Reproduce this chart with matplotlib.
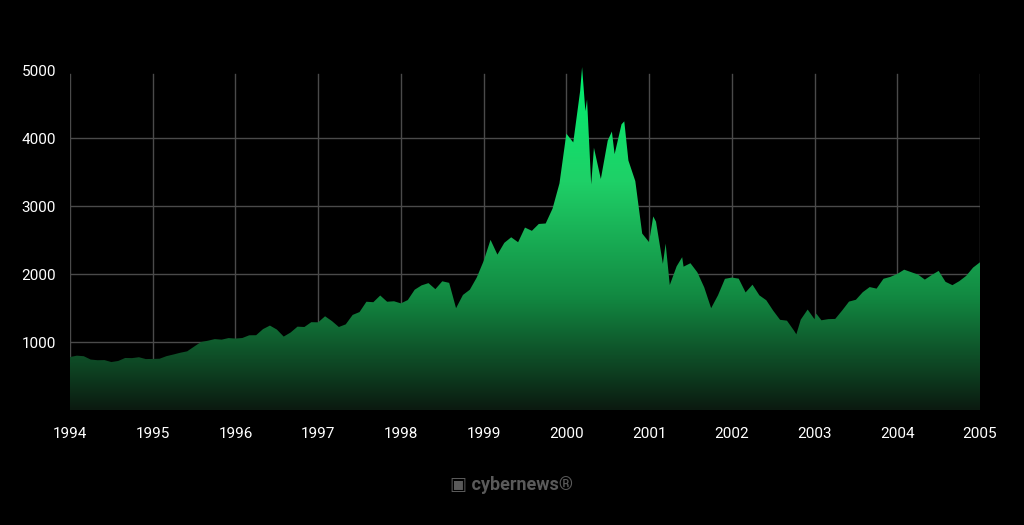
import numpy as np
import matplotlib.pyplot as plt
from matplotlib.colors import LinearSegmentedColormap
from matplotlib.patches import Polygon

plt.rcParams['font.family'] = ['Roboto', 'DejaVu Sans']

years = list(range(1994, 2006))
yticks = [1000, 2000, 3000, 4000, 5000]
monthly = [
 800, 792, 743, 733, 735, 706, 722, 766, 764, 777, 750, 752,
 755, 793, 817, 843, 864, 933, 1001, 1020, 1044, 1036, 1059, 1052,
 1060, 1100, 1101, 1191, 1243, 1185, 1081, 1141, 1227, 1222, 1293, 1291,
 1380, 1309, 1222, 1261, 1400, 1442, 1594, 1587, 1686, 1594, 1601, 1570,
 1619, 1771, 1835, 1868, 1779, 1895, 1872, 1499, 1694, 1771, 1950, 2193,
 2505, 2288, 2461, 2543, 2470, 2686, 2638, 2739, 2746, 2966, 3336, 4069,
 3940, 4697, 4573, 3861, 3401, 3966, 3767, 4206, 3673, 3370, 2598, 2471,
 2773, 2152, 1840, 2116, 2110, 2161, 2027, 1805, 1499, 1690, 1931, 1950,
 1934, 1731, 1845, 1688, 1616, 1463, 1328, 1315, 1172, 1330, 1479, 1336,
 1321, 1338, 1341, 1464, 1596, 1623, 1735, 1810, 1787, 1932, 1960, 2003,
 2066, 2030, 1994, 1920, 1987, 2048, 1887, 1838, 1897, 1975, 2097, 2175]
extra_t = [2000.19, 2000.30, 2000.23, 2000.55, 2000.70, 2001.05, 2001.20, 2001.40, 2002.78, 2003.02]
extra_v = [5048, 3321, 4400, 4100, 4250, 2850, 2450, 2250, 1114, 1420]

t = list(np.arange(len(monthly)) / 12 + 1994 + 1/12) + extra_t
v = monthly + extra_v
order = np.argsort(t)
t = np.concatenate([[1994.0], np.array(t)[order]])
v = np.concatenate([[780], np.array(v)[order]])

fig = plt.figure(figsize=(10.24, 5.25), dpi=100, facecolor='black')
ax = fig.add_axes([70/1024, 115/525, 910/1024, 343/525])
ax.set_facecolor('black')
ax.set_xlim(1994, 2005)
ax.set_ylim(0, 5050)

for x in years:
    ax.plot([x, x], [0, 4950], color='#4a4a4a', lw=1, zorder=0)
for y in yticks[:-1]:
    ax.axhline(y, color='#4a4a4a', lw=1, zorder=0)

cmap = LinearSegmentedColormap.from_list('g', ['#0b1a10', '#128a42', '#1fd067', '#00f070'])
grad = np.linspace(0, 1, 256).reshape(-1, 1)
im = ax.imshow(grad, cmap=cmap, aspect='auto', origin='lower',
               extent=[1994, 2005, 0, 5050], zorder=1)
poly = Polygon(np.column_stack([np.r_[t, t[-1], t[0]], np.r_[v, 0, 0]]),
               closed=True, transform=ax.transData, facecolor='none', edgecolor='none')
ax.add_patch(poly)
im.set_clip_path(poly)

ax.set_xticks(years)
ax.set_yticks(yticks)
ax.tick_params(colors='white', length=0, labelsize=11, pad=12)
ax.tick_params(axis='y', pad=10)
for s in ax.spines.values():
    s.set_visible(False)
fig.text(0.5, 0.077, '\u25a3 cybernews\u00ae', color='#5a5a5a', fontsize=13,
         fontweight='bold', ha='center', va='center')
fig.savefig('out.png', dpi=100, facecolor='black')
